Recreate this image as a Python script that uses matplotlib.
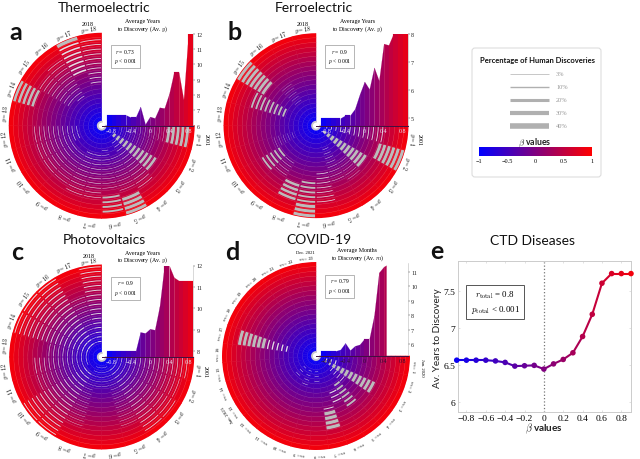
import numpy as np
import matplotlib
matplotlib.use("Agg")
import matplotlib.pyplot as plt
from matplotlib.colors import LinearSegmentedColormap, Normalize
from matplotlib.cm import ScalarMappable
from matplotlib.patches import FancyBboxPatch

plt.rcParams['mathtext.fontset'] = 'cm'
plt.rcParams['font.family'] = ['Liberation Serif', 'DejaVu Serif']
SANS = 'Lato'

W, H = 640, 460

beta = [-0.9, -0.8, -0.7, -0.6, -0.5, -0.4, -0.3, -0.2, -0.1, 0, 0.1, 0.2, 0.3, 0.4, 0.5, 0.6, 0.7, 0.8, 0.9]

# average time to discovery for each beta
years_a = [6.7, 6.7, 6.7, 6.7, 6.7, 6.55, 6.55, 7.25, 6.1, 6.6, 6.5, 7.2, 7.15, 8.1, 9.5, 9.5, 7.7, 12, 12]
years_b = [5, 5, 5, 5, 5, 5.1, 5.1, 5.33, 5.85, 6.3, 6.03, 6.8, 6.33, 7.65, 7.6, 8, 8, 8, 8]
years_c = [8, 8, 8, 8, 8, 8, 8, 8.9, 8.85, 9.05, 9, 10.1, 12, 12, 11.45, 11.3, 11.3, 11.3, 11.3]
beta_d = [-0.9, -0.8, -0.7, -0.6, -0.5, -0.4, -0.3, -0.2, -0.1, 0, 0.1, 0.2, 0.3, 0.4, 0.45]
months_d = [5.55, 5.55, 5.55, 5.55, 5.65, 6.1, 5.6, 5.9, 6.0, 6.4, 6.4, 8, 10.95, 11.35, 11.45]
years_e = [6.56, 6.56, 6.56, 6.56, 6.55, 6.53, 6.48, 6.485, 6.49, 6.44, 6.51, 6.57, 6.66, 6.88, 7.18, 7.6, 7.73, 7.73, 7.73]

# human discovery share: (sector, first ring, last ring, share of ring)
arcs_a = [(1, 13, 17, .75), (1, 3, 12, .1), (2, 3, 10, .08), (3, 2, 12, .7), (4, 3, 14, .15),
          (5, 15, 18, .8), (5, 6, 13, .12), (6, 14, 17, .5), (6, 4, 12, .12), (7, 5, 14, .15),
          (8, 5, 14, .15), (9, 6, 13, .12), (10, 6, 13, .15), (11, 4, 13, .15), (12, 4, 13, .15),
          (14, 14, 18, .7), (15, 7, 14, .15), (16, 6, 15, .15), (17, 11, 17, .42), (17, 18, 18, .9),
          (18, 8, 17, .22)]
arcs_b = [(1, 1, 13, .22), (2, 13, 18, .8), (3, 1, 11, .8), (4, 8, 12, .1), (5, 4, 11, .12),
          (6, 9, 15, .2), (7, 16, 18, .8), (7, 11, 15, .5), (8, 12, 15, .7), (9, 8, 11, .12),
          (10, 8, 12, .5), (11, 4, 8, .08), (14, 6, 13, .5), (15, 12, 18, .8), (16, 5, 9, .08)]
arcs_c = [(1, 2, 17, .17), (2, 2, 16, .14), (3, 2, 17, .17), (4, 2, 17, .2), (5, 1, 14, .1),
          (6, 1, 5, .1), (7, 1, 5, .1), (8, 1, 14, .1), (9, 3, 18, .24), (10, 3, 18, .24),
          (11, 2, 13, .14), (12, 2, 13, .17), (13, 2, 10, .17), (14, 2, 18, .24), (15, 2, 18, .28),
          (16, 2, 18, .28), (17, 2, 12, .14), (18, 2, 18, .24)]
arcs_d = [(2, 1, 3, .3), (3, 1, 2, .5), (3, 3, 12, .8), (4, 3, 6, .2), (5, 6, 11, .5),
          (6, 7, 9, .3), (7, 11, 14, .85), (7, 10, 10, .25), (8, 2, 4, .12), (10, 2, 5, .12),
          (12, 2, 4, .12), (17, 5, 9, .35), (17, 10, 15, .8)]

legend_shares = [3, 10, 20, 30, 40]
legend_widths = [0.5, 1.0, 2.2, 3.0, 4.0]

cmap = LinearSegmentedColormap.from_list("bwr2", ["#0000ff", "#ff0000"])
norm = Normalize(-1, 1)


def pixel_axes(x, y, w, h, **kw):
    return fig.add_axes([x / W, 1 - (y + h) / H, w / W, h / H], **kw)


def fig_text(x, y, s, **kw):
    kw.setdefault('ha', 'center')
    kw.setdefault('va', 'center')
    fig.text(x / W, 1 - y / H, s, **kw)


def wheel(cx, cy, radius, arcs, n_sectors, top_label, first_label, size=4.3):
    ax = pixel_axes(cx - radius, cy - radius, 2 * radius, 2 * radius, projection='polar')
    ax.set_theta_zero_location('E')
    ax.set_theta_direction(-1)
    hole = 0.85
    rmax = hole + len(beta)
    step = 1.5 * np.pi / n_sectors
    for s in range(n_sectors):
        for i, b in enumerate(beta):
            ax.bar((s + 0.5) * step, 1.0, width=step, bottom=hole + i, color=cmap(norm(b)),
                   linewidth=0.4, edgecolor=cmap(norm(b)))
    t = np.linspace(0, 1.5 * np.pi, 200)
    for i in range(1, len(beta)):
        ax.plot(t, np.full_like(t, hole + i), color='white', lw=0.3, alpha=0.18)
    for sector, r0, r1, share in arcs:
        col = '#bcbcbc' if share > 0.45 else '#e4dee4'
        for r in range(r0, r1 + 1):
            ax.bar((sector - 0.5) * step, share * 0.8, width=step * 0.92,
                   bottom=hole + r + 0.5 - share * 0.4, color=col, linewidth=0)
    ax.plot(t, np.full_like(t, hole), color='#cccccc', lw=1.3)
    ax.set_rlim(0, rmax)
    ax.axis('off')

    name = 'm' if n_sectors == 23 else 'y'
    for s in range(n_sectors):
        th = (s + 0.5) * step
        ax.text(th, rmax * 1.05, "$%s = %d$" % (name, s + 1), fontsize=size, ha='center', va='center',
                rotation=-np.degrees(th) - 90, rotation_mode='anchor')
    th = (n_sectors - 0.5) * step
    ax.text(th, rmax * 1.11, top_label, fontsize=size, ha='center', va='center')
    ax.text(0.5 * step, rmax * 1.13, first_label, fontsize=size, ha='center', va='center', rotation=-90)
    return ax


def inset(cx, cy, radius, right, x, y, ylim, yticks, title, stats, label_col):
    top = cy - radius + 1
    ax = pixel_axes(cx, top, right - cx, cy - top)
    ax.patch.set_alpha(0)
    for i in range(len(x) - 1):
        ax.fill_between(x[i:i + 2], y[i:i + 2], ylim[0], color=cmap(norm(x[i])), linewidth=0.1)
    ax.set_xlim(-1.005, 0.905)
    ax.set_ylim(*ylim)
    ax.yaxis.tick_right()
    ax.set_yticks(yticks)
    ax.set_yticklabels([str(v) for v in yticks], fontsize=4.3)
    ax.set_xticks([-0.8, -0.4, 0, 0.4, 0.8])
    ax.set_xticklabels(['\u22120.8', '\u22120.4', '0', '0.4', '0.8'], fontsize=4.3, color=label_col)
    ax.tick_params(axis='x', length=0, pad=1.5)
    ax.tick_params(axis='y', length=1.2, width=0.3, pad=1, colors='#222222')
    for sp in ('left', 'top'):
        ax.spines[sp].set_visible(False)
    ax.spines['right'].set_color('#bbbbbb')
    ax.spines['right'].set_linewidth(0.4)
    ax.spines['bottom'].set_color('#401040')
    ax.spines['bottom'].set_linewidth(0.7)
    ax.text(0.45, 1.09, title, transform=ax.transAxes, ha='center', va='center', fontsize=4.3,
            linespacing=0.95, clip_on=False)
    ax.text(0.26, 0.757, stats, transform=ax.transAxes, ha='center', va='center', fontsize=4.1, linespacing=1.25,
            bbox=dict(boxstyle='square,pad=0.5', fc='white', ec='#999999', lw=0.5))


fig = plt.figure(figsize=(W / 100, H / 100), dpi=100, facecolor='white')

wheel(101.7, 126.7, 93, arcs_a, 18, '2018', '2001')
wheel(316, 126.7, 92.5, arcs_b, 18, '2018', '2001')
wheel(101.7, 358, 92.5, arcs_c, 18, '2018', '2001')
axd = wheel(316, 357, 94, arcs_d, 23, 'Dec. 2021', 'Jan. 2020', size=3.3)
axd.text(np.radians(12.5 * 270 / 23), 19.85 * 1.12, 'Jan. 2021', fontsize=3.6, ha='center', va='center',
         rotation=-(12.5 * 270 / 23) - 90, rotation_mode='anchor')

inset(101.7, 126.7, 93, 193.3, beta, years_a, (6, 12), [6, 7, 8, 9, 10, 11, 12],
      "Average Years\nto Discovery (Av. $y$)", "$r$ = 0.73\n$p$ < 0.001", '#e8e0f0')
inset(316, 126.7, 93, 408, beta, years_b, (4.73, 8), [5, 6, 7, 8],
      "Average Years\nto Discovery (Av. $y$)", "$r$ = 0.9\n$p$ < 0.001", '#e8e0f0')
inset(101.7, 358, 92.5, 193.3, beta, years_c, (7.73, 12), [8, 9, 10, 11, 12],
      "Average Years\nto Discovery (Av. $y$)", "$r$ = 0.9\n$p$ < 0.001", '#e8e0f0')
inset(316, 357, 94, 408, beta_d, months_d, (5.2, 11.6), [6, 7, 8, 9, 10, 11],
      "Average Months\nto Discovery (Av. $m$)", "$r$ = 0.79\n$p$ < 0.001", '#301030')

for x, y, s in [(104, 8, 'Thermoelectric'), (314, 8, 'Ferroelectric'), (104, 240, 'Photovoltaics'),
                (319, 240, 'COVID-19'), (533, 241, 'CTD Diseases')]:
    fig_text(x, y, s, family=SANS, fontsize=10, color='#111111')
for x, y, s in [(16, 33, 'a'), (235, 33, 'b'), (17, 253, 'c'), (232, 253, 'd'), (437, 252, 'e')]:
    fig_text(x, y, s, family=SANS, fontsize=18, fontweight='bold', color='#111111')

# legend card
card = pixel_axes(0, 0, W, H)
card.set_xlim(0, W)
card.set_ylim(H, 0)
card.axis('off')
card.patch.set_alpha(0)
card.add_patch(FancyBboxPatch((472, 49), 129, 129, boxstyle='round,pad=0,rounding_size=3', fc='white',
                              ec='#dddddd', lw=0.8))
fig_text(537, 61, 'Percentage of Human Discoveries', family=SANS, fontsize=5.5, fontweight='bold', color='#111111')
for k, (share, lw) in enumerate(zip(legend_shares, legend_widths)):
    ly = 74.5 + 13 * k
    card.plot([510, 549], [ly, ly], color='#b0b0b0', lw=lw, solid_capstyle='butt')
    card.text(556, ly, '%d%%' % share, fontsize=4.6, color='#999999', ha='left', va='center')
fig_text(535, 143, r'$\beta$ values', family=SANS, fontsize=6.3, fontweight='bold', color='#222222')

cax = pixel_axes(479, 148, 113, 9)
cb = fig.colorbar(ScalarMappable(norm=norm, cmap=cmap), cax=cax, orientation='horizontal')
cb.set_ticks([-1, -0.5, 0, 0.5, 1])
cb.set_ticklabels(['\u22121', '\u22120.5', '0', '0.5', '1'])
cb.ax.tick_params(labelsize=4.5, length=0, pad=1.5)
cb.outline.set_visible(False)

# panel e
axe = pixel_axes(457.7, 262, 173.3, 151)
for i in range(len(beta) - 1):
    axe.plot(beta[i:i + 2], years_e[i:i + 2], color=cmap(norm(beta[i] + 0.05)), lw=1.5, zorder=2)
axe.scatter(beta, years_e, c=beta, cmap=cmap, norm=norm, s=16, zorder=3, linewidths=0, clip_on=False)
axe.axvline(0, color='#777777', lw=0.9, ls=':', zorder=1)
axe.set_xlim(-0.89, 0.9)
axe.set_ylim(5.86, 7.9)
axe.set_xticks([-0.8, -0.6, -0.4, -0.2, 0, 0.2, 0.4, 0.6, 0.8])
axe.set_xticklabels(['\u22120.8', '\u22120.6', '\u22120.4', '\u22120.2', '0', '0.2', '0.4', '0.6', '0.8'], fontsize=6.8)
axe.set_yticks([6, 6.5, 7, 7.5])
axe.set_yticklabels(['6', '6.5', '7', '7.5'], fontsize=6.8)
axe.tick_params(length=1.5, width=0.4, color='#cccccc', pad=1.5, top=True, right=True, direction='in')
for sp in axe.spines.values():
    sp.set_color('#cccccc')
    sp.set_linewidth(0.7)
axe.text(0.216, 0.73, "$r_{\\mathrm{total}}$ = 0.8\n$p_{\\mathrm{total}}$ < 0.001", transform=axe.transAxes,
         ha='center', va='center', fontsize=6.4, linespacing=1.3,
         bbox=dict(boxstyle='square,pad=0.5', fc='white', ec='#555555', lw=0.7))
fig_text(544, 429, r'$\beta$ values', family=SANS, fontsize=7.2, fontweight='bold', color='#222222')
fig_text(438, 338, 'Av. Years to Discovery', family=SANS, fontsize=7.2, rotation=90, color='#222222')

fig.savefig('out.png', dpi=100, facecolor='white')
